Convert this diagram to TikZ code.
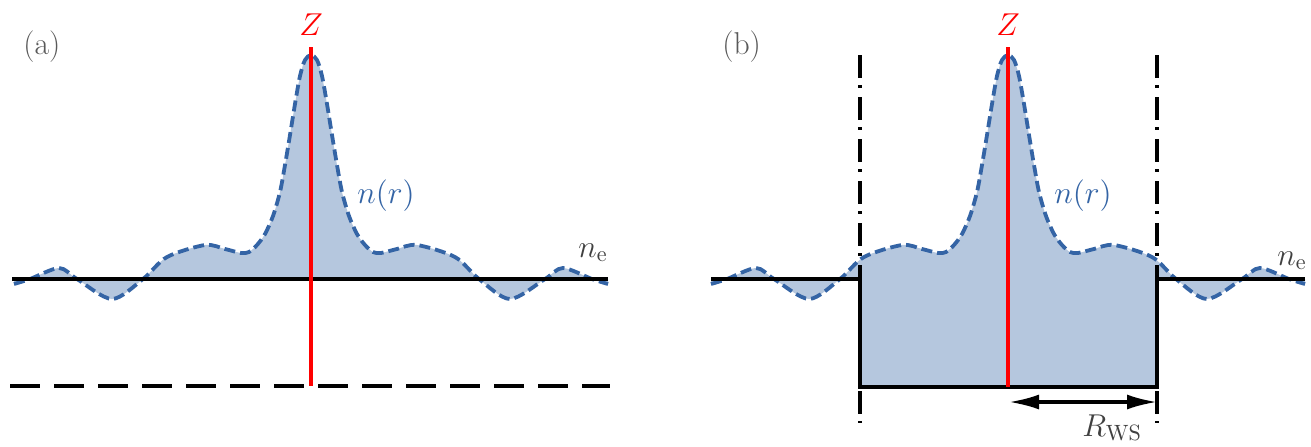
\documentclass[tikz,border=0pt]{standalone}
\usepackage{fix-cm}
\usetikzlibrary{arrows.meta}
\definecolor{cblue}{RGB}{52,100,165}
\definecolor{cfill}{RGB}{181,199,222}
\definecolor{cred}{RGB}{255,0,0}
\begin{document}
\begin{tikzpicture}[x=0.5pt,y=-0.5pt,
  ncurve/.style={draw=cblue,line width=1.9pt,dash pattern=on 5.5pt off 2.5pt},
  base/.style={draw=black,line width=1.6pt,line join=miter},
  bdash/.style={draw=black,line width=1.6pt,dash pattern=on 15pt off 7pt},
  ddot/.style={draw=black,line width=1.6pt,dash pattern=on 11.5pt off 3.5pt on 1.5pt off 4.5pt},
  zline/.style={draw=cred,line width=2.1pt},
  lab/.style={inner sep=0pt,font=\fontsize{15.8}{19}\selectfont},
  dblarrow/.style={>={Latex[length=15pt,width=7.5pt]},<->}
]
\useasboundingbox (0,0) rectangle (1311,446);

% ---------- panel (a) ----------
\begin{scope}[shift={(311,0)}]
\fill[cfill] plot[smooth] coordinates {(-297,284) (-281,279) (-252,268) (-234,279) (-199,299) (-168,279) (-144,257) (-106,245) (-86,249) (-70,253) (-62,252) (-54,245) (-46,234) (-38,216) (-31,192) (-26,165) (-21,135) (-16,104) (-11,76) (-6,60) (0,55) (6,60) (11,76) (16,104) (21,135) (26,165) (31,192) (38,216) (46,234) (54,245) (62,252) (70,253) (86,249) (106,245) (144,257) (168,279) (199,299) (234,279) (252,268) (281,279) (297,284)} -- (297,279) -- (-297,279) -- cycle;
\draw[ncurve] plot[smooth] coordinates {(-297,284) (-281,279) (-252,268) (-234,279) (-199,299) (-168,279) (-144,257) (-106,245) (-86,249) (-70,253) (-62,252) (-54,245) (-46,234) (-38,216) (-31,192) (-26,165) (-21,135) (-16,104) (-11,76) (-6,60) (0,55) (6,60) (11,76) (16,104) (21,135) (26,165) (31,192) (38,216) (46,234) (54,245) (62,252) (70,253) (86,249) (106,245) (144,257) (168,279) (199,299) (234,279) (252,268) (281,279) (297,284)};
\end{scope}
\coordinate (aL) at (12,279);
\coordinate (aR) at (608,279);
\draw[base] (aL) -- (aR);
\coordinate (aBL) at (10,386);
\coordinate (aBR) at (610,386);
\draw[bdash] (aBL) -- (aBR);
\coordinate (aZt) at (311,47);
\coordinate (aZb) at (311,386);
\draw[zline] (aZt) -- (aZb);
\node[lab,text=cred,anchor=base] (Za) at (311,35) {$Z$};
\node[lab,text=cblue,anchor=base west] (nra) at (357,203) {$n(r)$};
\node[lab,text=black!75,anchor=base west] (nea) at (578,257) {$n_{\mathrm{e}}$};
\node[lab,text=black!65,anchor=base west] (pa) at (23,54) {(a)};

% ---------- panel (b) ----------
\begin{scope}[shift={(1008,0)}]
\fill[cfill] plot[smooth] coordinates {(-297,284) (-281,279) (-252,268) (-234,279) (-199,299) (-168,279) (-144,257) (-106,245) (-86,249) (-70,253) (-62,252) (-54,245) (-46,234) (-38,216) (-31,192) (-26,165) (-21,135) (-16,104) (-11,76) (-6,60) (0,55) (6,60) (11,76) (16,104) (21,135) (26,165) (31,192) (38,216) (46,234) (54,245) (62,252) (70,253) (86,249) (106,245) (144,257) (168,279) (199,299) (234,279) (252,268) (281,279) (297,284)} -- (297,279) -- (149,279) -- (149,387) -- (-148,387) -- (-148,279) -- (-297,279) -- cycle;
\draw[ncurve] plot[smooth] coordinates {(-297,284) (-281,279) (-252,268) (-234,279) (-199,299) (-168,279) (-144,257) (-106,245) (-86,249) (-70,253) (-62,252) (-54,245) (-46,234) (-38,216) (-31,192) (-26,165) (-21,135) (-16,104) (-11,76) (-6,60) (0,55) (6,60) (11,76) (16,104) (21,135) (26,165) (31,192) (38,216) (46,234) (54,245) (62,252) (70,253) (86,249) (106,245) (144,257) (168,279) (199,299) (234,279) (252,268) (281,279) (297,284)};
\end{scope}
\coordinate (dLt) at (860,55);
\coordinate (dLb) at (860,423);
\coordinate (dRt) at (1157,55);
\coordinate (dRb) at (1157,423);
\draw[ddot] (dLt) -- (dLb);
\draw[ddot] (dRt) -- (dRb);
\coordinate (bL) at (711,279);
\coordinate (bTL) at (860,279);
\coordinate (bBL) at (860,387);
\coordinate (bBR) at (1157,387);
\coordinate (bTR) at (1157,279);
\coordinate (bR) at (1305,279);
\draw[base] (bL) -- (bTL) -- (bBL) -- (bBR) -- (bTR) -- (bR);
\coordinate (bZt) at (1008,47);
\coordinate (bZb) at (1008,387);
\draw[zline] (bZt) -- (bZb);
\coordinate (arL) at (1009,402);
\coordinate (arR) at (1157,402);
\draw[base,dblarrow] (arL) -- (arR);
\node[lab,text=cred,anchor=base] (Zb) at (1008,35) {$Z$};
\node[lab,text=cblue,anchor=base west] (nrb) at (1054,203) {$n(r)$};
\node[lab,text=black!75,anchor=base west] (neb) at (1277,265) {$n_{\mathrm{e}}$};
\node[lab,text=black!75,anchor=base west] (rws) at (1082,436) {$R_{\mathrm{WS}}$};
\node[lab,text=black!65,anchor=base west] (pb) at (722,54) {(b)};
\end{tikzpicture}
\end{document}
